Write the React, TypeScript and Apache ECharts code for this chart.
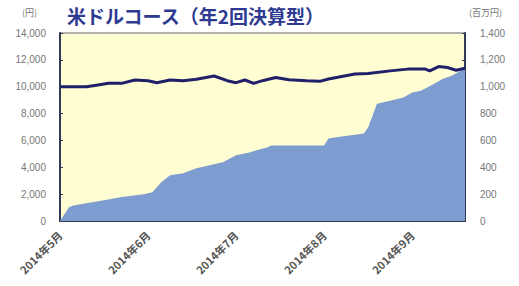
import React, { useEffect, useRef } from "react";
import * as echarts from "echarts";

const monthLabels = ["2014年5月", "2014年6月", "2014年7月", "2014年8月", "2014年9月"];
const navDays = [0, 6, 9, 11, 14, 17, 20, 22, 25, 28, 31, 35, 38, 40, 42, 44, 46, 49, 52, 56, 59, 61, 67, 70, 75, 79, 83, 84, 86, 88, 90, 92];
const navValues = [10000, 10000, 10150, 10250, 10250, 10500, 10450, 10300, 10500, 10450, 10560, 10800, 10450, 10300, 10500, 10250, 10450, 10690, 10520, 10450, 10400, 10570, 10940, 10990, 11180, 11310, 11310, 11180, 11500, 11430, 11230, 11380];
const assetDays = [0, 2, 3, 6, 10, 14, 19, 21, 23, 25, 28, 31, 34, 37, 40, 43, 44, 47, 48, 52, 60, 61, 64, 69, 70, 72, 75, 78, 80, 82, 85, 87, 89, 91, 92];
const assetValues = [0, 100, 115, 133, 155, 178, 200, 215, 289, 340, 355, 392, 415, 437, 489, 511, 520, 548, 563, 563, 563, 615, 630, 652, 696, 874, 896, 919, 956, 970, 1022, 1059, 1081, 1119, 1141];

const fmt = (v: number) => v.toLocaleString("en-US");

export default function App() {
  const ref = useRef<HTMLDivElement>(null);
  useEffect(() => {
    const chart = echarts.init(ref.current!, null, { renderer: "svg" });
    const labelStyle = { color: "#777", fontSize: 10, fontFamily: "Liberation Sans, Arial, sans-serif" };
    chart.setOption({
      animation: false,
      backgroundColor: "#ffffff",
      grid: {
        left: 60,
        right: 54,
        top: 33,
        bottom: 65,
        show: true,
        backgroundColor: "#fffdd2",
        borderColor: "#999999",
        borderWidth: 1.5,
      },
      graphic: [
        {
          type: "text",
          left: 67,
          top: 6,
          style: {
            text: "米ドルコース（年2回決算型）",
            fill: "#2d3a90",
            font: "bold 19px 'Noto Sans CJK JP', sans-serif",
          },
        },
        {
          type: "text",
          left: 22,
          top: 8,
          style: { text: "(円)", fill: "#777", font: "9px 'Noto Sans CJK JP', sans-serif" },
        },
        {
          type: "text",
          left: 469,
          top: 8,
          style: { text: "(百万円)", fill: "#777", font: "9px 'Noto Sans CJK JP', sans-serif" },
        },
      ],
      xAxis: {
        type: "value",
        min: 0,
        max: 92,
        interval: 20,
        splitLine: { show: false },
        axisLine: { lineStyle: { color: "#333a55", width: 2 } },
        axisTick: { inside: true, length: 3, lineStyle: { color: "#333a55", width: 2 } },
        axisLabel: {
          color: "#555",
          fontSize: 11,
          fontWeight: "bold",
          fontFamily: "'Noto Sans CJK JP', sans-serif",
          rotate: 45,
          margin: 12,
          showMaxLabel: false,
          formatter: (v: number) => (v % 20 === 0 ? monthLabels[v / 20] ?? "" : ""),
        },
      },
      yAxis: [
        {
          type: "value",
          min: 0,
          max: 14000,
          interval: 2000,
          splitLine: { show: false },
          axisLine: { show: true, lineStyle: { color: "#333a55", width: 2 } },
          axisTick: { show: true, inside: true, length: 3, lineStyle: { color: "#333a55" } },
          axisLabel: { ...labelStyle, margin: 14, formatter: fmt },
        },
        {
          type: "value",
          position: "right",
          min: 0,
          max: 1400,
          interval: 200,
          splitLine: { show: false },
          axisLine: { show: true, lineStyle: { color: "#333a55", width: 2 } },
          axisTick: { show: true, inside: true, length: 3, lineStyle: { color: "#333a55" } },
          axisLabel: { ...labelStyle, margin: 15, formatter: fmt },
        },
      ],
      series: [
        {
          type: "line",
          yAxisIndex: 1,
          data: assetDays.map((d, i) => [d, assetValues[i]]),
          showSymbol: false,
          lineStyle: { width: 0 },
          areaStyle: { color: "#7d9dd0", opacity: 1 },
          z: 1,
        },
        {
          type: "line",
          yAxisIndex: 0,
          data: navDays.map((d, i) => [d, navValues[i]]),
          showSymbol: false,
          lineStyle: { color: "#20206a", width: 3 },
          z: 3,
        },
      ],
    });
    return () => chart.dispose();
  }, []);
  return (
    <div
      ref={ref}
      style={{ position: "fixed", left: 0, top: 0, width: 519, height: 286 }}
    />
  );
}
